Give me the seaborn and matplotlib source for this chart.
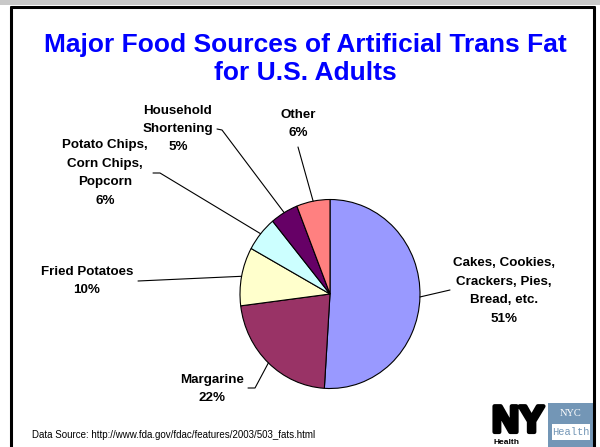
import numpy as np
import matplotlib
matplotlib.use("Agg")
import matplotlib.pyplot as plt
from matplotlib.patches import Rectangle
from matplotlib.lines import Line2D
import matplotlib.patheffects as pe
import seaborn as sns

# ---- data ----
categories = ["Cakes, Cookies,\nCrackers, Pies,\nBread, etc.", "Margarine", "Fried Potatoes",
              "Potato Chips,\nCorn Chips,\nPopcorn", "Household\nShortening", "Other"]
values = [51, 22, 10, 6, 5, 6]
pct_labels = ["51%", "22%", "10%", "6%", "5%", "6%"]
colors = ["#9999FF", "#993366", "#FFFFCC", "#CCFFFF", "#660066", "#FF8080"]
title = "Major Food Sources of Artificial Trans Fat\nfor U.S. Adults"
source = "Data Source: http://www.fda.gov/fdac/features/2003/503_fats.html"

sns.set_theme(style="white")
plt.rcParams["font.family"] = ["Liberation Sans", "DejaVu Sans"]

W, H = 600, 447
fig = plt.figure(figsize=(6, 4.47), dpi=100)
fig.patch.set_facecolor("white")

def P(x, y):
    """top-down pixel -> figure fraction"""
    return (x / W, 1 - y / H)

# frame
fig.patches.append(Rectangle((0, 1 - 5 / H), 1, 5 / H, transform=fig.transFigure,
                             facecolor="#c8c8c8", edgecolor="none", zorder=0))
for (x0, y0, x1, y1) in [(11, 6.5, 594, 6.5), (11, 6.5, 11, 447), (594, 6.5, 594, 447)]:
    a, b = P(x0, y0)
    c, d = P(x1, y1)
    fig.add_artist(Line2D([a, c], [b, d], transform=fig.transFigure, color="black", lw=2.2))

# title
fig.text(*P(305, 59), title, ha="center", va="center", color="#0000FF",
         fontsize=19, fontweight="bold", linespacing=1.22)

# pie axes: rx = 90 px, ry = 94.5 px around (330, 294)
cx, cy, rx, ry = 330, 294, 90, 94.5
l, b = P(cx - rx, cy + ry)
ax = fig.add_axes([l, b, 2 * rx / W, 2 * ry / H])
pal = sns.color_palette(colors)
wedges, _ = ax.pie(values, colors=pal, startangle=90, counterclock=False,
                   wedgeprops=dict(edgecolor="black", linewidth=0.8))
ax.set_aspect("auto")
ax.set_xlim(-1, 1)
ax.set_ylim(-1, 1)
ax.axis("off")

# label positions (pixel, top-down) and leader line start points
label_pos = [(504, 291), (212, 389), (87, 281), (105, 173), (178, 129), (298, 124)]
leader_start = [[(450, 290)], [(248, 388), (255, 388)], [(138, 281)],
                [(153, 173), (160, 173)], [(217, 129), (222, 130)], [(298, 147)]]

for i, w in enumerate(wedges):
    ang = np.deg2rad((w.theta1 + w.theta2) / 2)
    anchor_disp = ax.transData.transform((np.cos(ang), np.sin(ang)))
    anchor = fig.transFigure.inverted().transform(anchor_disp)
    pts = [P(*p) for p in leader_start[i]] + [tuple(anchor)]
    xs = [p[0] for p in pts]
    ys = [p[1] for p in pts]
    fig.add_artist(Line2D(xs, ys, transform=fig.transFigure, color="black", lw=0.8))
    fig.text(*P(*label_pos[i]), categories[i] + "\n" + pct_labels[i], ha="center",
             va="center", fontsize=9.6, fontweight="bold", linespacing=1.72, color="black")

# source
fig.text(*P(32, 435), source, ha="left", va="center", fontsize=7.0, color="black")

# logo
fig.text(*P(518, 422), "NY", ha="center", va="center", fontsize=27, fontweight="bold",
         color="black", path_effects=[pe.withStroke(linewidth=3, foreground="black")])
fig.text(*P(507, 443), "Health", ha="center", va="center", fontsize=6, fontweight="bold",
         color="black")
fig.patches.append(Rectangle(P(548, 447), 45 / W, 44 / H, transform=fig.transFigure,
                             facecolor="#7396b6", edgecolor="none"))
fig.patches.append(Rectangle(P(552, 440), 38 / W, 16 / H, transform=fig.transFigure,
                             facecolor="white", edgecolor="none"))
fig.text(*P(571, 413), "NYC", ha="center", va="center", fontsize=7.5, color="white",
         family=["Liberation Serif", "DejaVu Serif"])
fig.text(*P(571, 432), "Health", ha="center", va="center", fontsize=7.5, color="#7396b6",
         family=["Liberation Mono", "DejaVu Sans Mono"])

fig.savefig("out.png", dpi=100, facecolor="white")
